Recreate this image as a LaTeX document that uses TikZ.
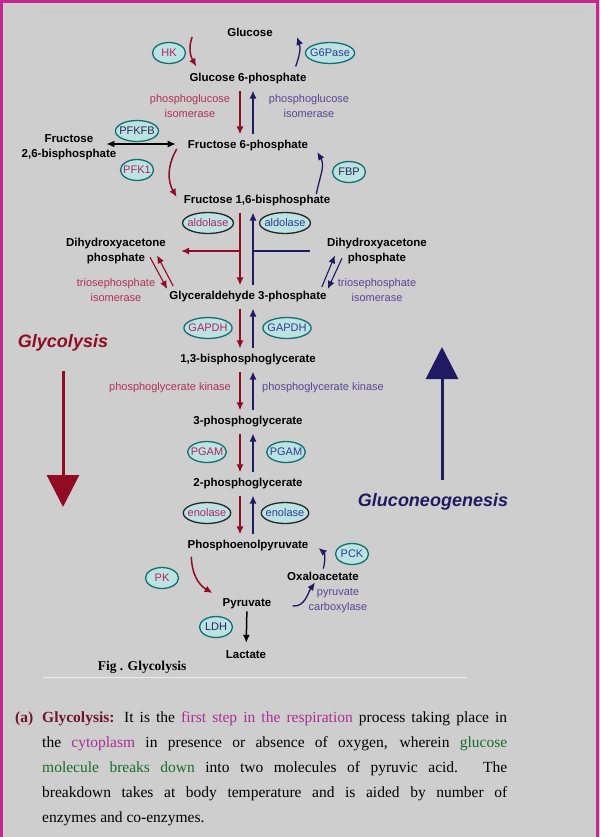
\documentclass[tikz,border=0pt]{standalone}
\usepackage{fontspec}
\setmainfont{Liberation Serif}
\setsansfont{Liberation Sans}
\usetikzlibrary{shapes.geometric, arrows.meta, positioning}
\definecolor{bgcol}{RGB}{206,206,206}
\definecolor{framecol}{RGB}{196,40,140}
\definecolor{glyred}{RGB}{145,12,35}
\definecolor{gngblue}{RGB}{32,26,98}
\definecolor{redtxt}{RGB}{178,48,88}
\definecolor{bluetxt}{RGB}{88,70,150}
\definecolor{redenz}{RGB}{185,35,95}
\definecolor{blueenz}{RGB}{45,62,150}
\definecolor{darkenz}{RGB}{40,40,90}
\definecolor{enzfill}{RGB}{188,226,226}
\definecolor{enzline}{RGB}{20,112,112}
\definecolor{maroontxt}{RGB}{110,20,45}
\definecolor{pinktxt}{RGB}{172,45,150}
\definecolor{greentxt}{RGB}{25,108,45}
\tikzset{
  metab/.style={
    font=\sffamily\bfseries\fontsize{11.5}{15.5}\selectfont,
    align=center,
    inner sep=2pt
    },
  enzname/.style={
    font=\sffamily\fontsize{11}{15}\selectfont,
    align=center,
    inner sep=1pt
    },
  enz/.style={
    ellipse,
    draw=enzline,
    line width=1.3pt,
    fill=enzfill,
    inner xsep=-2.5pt,
    inner ysep=0pt,
    minimum width=33pt,
    minimum height=21pt,
    font=\sffamily\fontsize{11}{12}\selectfont
    },
  enzr/.style={enz, text=redenz},
  enzb/.style={enz, text=blueenz},
  enzk/.style={enz, text=darkenz},
  fwd/.style={
    draw=glyred,
    line width=1.5pt,
    -{Latex[length=8pt,width=7pt]},
    shorten <=4pt,
    shorten >=4pt
    },
  rev/.style={
    draw=gngblue,
    line width=1.3pt,
    -{Latex[length=8pt,width=7pt]},
    shorten <=4pt,
    shorten >=4pt
    },
  bigarrow/.style={
    line width=3pt,
    -{Triangle[length=32pt,width=32pt]}
    },
  bodyline/.style={
    anchor=base west,
    inner sep=0pt,
    font=\fontsize{15.5}{25}\selectfont
    }
}

\begin{document}
\begin{tikzpicture}[x=1pt, y=-1pt]
\fill[bgcol] (0,0) rectangle (600,837);
\useasboundingbox (0,0) rectangle (600,837);
\draw[framecol, line width=3pt] (1.5,837) -- (1.5,1.5) -- (597,1.5) -- (597,837);
\draw[black!22, line width=0.8pt] (40,11) -- (588,11);
\draw[white!60!bgcol, line width=1pt] (43,677) -- (467,677);

% metabolites
\node (glc) [metab] at (250,32) {Glucose};
\node (g6p) [metab] at (248,79) {Glucose 6-phosphate};
\node (f6p) [metab] at (248,146) {Fructose 6-phosphate};
\node (f16bp) [metab] at (257,201) {Fructose 1,6-bisphosphate};
\node (gap) [metab] at (248,297) {Glyceraldehyde 3-phosphate};
\node (bpg) [metab] at (248,360) {1,3-bisphosphoglycerate};
\node (pg3) [metab] at (248,422) {3-phosphoglycerate};
\node (pg2) [metab] at (248,484) {2-phosphoglycerate};
\node (pep) [metab] at (248,546) {Phosphoenolpyruvate};
\node (oaa) [metab] at (323,576) {Oxaloacetate};
\node (pyr) [metab] at (247,604) {Pyruvate};
\node (lac) [metab] at (246,655) {Lactate};
\node (f26bp) [metab] at (69,147) {Fructose\\2,6-bisphosphate};
\node (dhapL) [metab] at (116,251) {Dihydroxyacetone\\phosphate};
\node (dhapR) [metab] at (377,251) {Dihydroxyacetone\\phosphate};

% enzyme names
\node (pgiL) [enzname, text=redtxt] at (190,106) {phosphoglucose\\isomerase};
\node (pgiR) [enzname, text=bluetxt] at (309,106) {phosphoglucose\\isomerase};
\node (tpiL) [enzname, text=redtxt] at (116,290) {triosephosphate\\isomerase};
\node (tpiR) [enzname, text=bluetxt] at (377,290) {triosephosphate\\isomerase};
\node (pgkL) [enzname, text=redtxt] at (170,388) {phosphoglycerate kinase};
\node (pgkR) [enzname, text=bluetxt] at (323,388) {phosphoglycerate kinase};
\node (pc) [enzname, text=bluetxt] at (338,601) {pyruvate\\carboxylase};

% enzyme ellipses
\node (hk) [enzr] at (169,53) {HK};
\node (g6pase) [enzb] at (330,53) {G6Pase};
\node (pfkfb) [enzk] at (137,131) {PFKFB};
\node (pfk1) [enzr] at (137,170) {PFK1};
\node (fbp) [enzk] at (349,172) {FBP};
\node (aldR) [enzr, draw=black!85] at (208,223) {aldolase};
\node (aldB) [enzb, draw=black!85] at (285,223) {aldolase};
\node (gapdhR) [enzr] at (208,328) {GAPDH};
\node (gapdhB) [enzb] at (287,328) {GAPDH};
\node (pgamR) [enzr] at (207,452) {PGAM};
\node (pgamB) [enzb] at (286,452) {PGAM};
\node (enoR) [enzr, draw=black!85] at (207,513) {enolase};
\node (enoB) [enzb, draw=black!85] at (285,513) {enolase};
\node (pck) [enzb] at (352,554) {PCK};
\node (pk) [enzr] at (162,578) {PK};
\node (ldh) [enzk] at (216,627) {LDH};

% big labels
\node (glylab) [font=\sffamily\bfseries\itshape\fontsize{18}{20}\selectfont, text=glyred] at (63,343) {Glycolysis};
\node (gnglab) [font=\sffamily\bfseries\itshape\fontsize{18}{20}\selectfont, text=gngblue] at (433,502) {Gluconeogenesis};
\coordinate (glyTip) at (63,507);
\coordinate (gngTip) at (442,347);
\draw[bigarrow, glyred, shorten <=16pt] (glylab.south) -- (glyTip);
\draw[bigarrow, gngblue, shorten <=10pt] (gnglab.north -| gngTip) -- (gngTip);

% main column arrows
\coordinate (rcol) at (240,0);
\coordinate (ncol) at (253,0);
\foreach \a/\b in {g6p/f6p, f16bp/gap, gap/bpg, bpg/pg3, pg3/pg2, pg2/pep} {
  \draw[fwd] (\a.south -| rcol) -- (\b.north -| rcol);
  \draw[rev] (\b.north -| ncol) -- (\a.south -| ncol);
}
\draw[glyred, line width=1.5pt, -{Latex[length=8pt,width=7pt]}, shorten >=13pt] (dhapL.east -| rcol) -- (dhapL.east);
\draw[gngblue, line width=1.3pt, shorten >=15pt] (dhapR.west -| ncol) -- (dhapR.west);

% triose phosphate isomerase
\draw[fwd, line width=1.1pt, shorten <=0pt, shorten >=0pt] ([xshift=-18pt,yshift=9pt]dhapL.south east) -- ([yshift=8pt]gap.west);
\draw[fwd, line width=1.1pt, shorten <=0pt, shorten >=0pt] ([xshift=6pt,yshift=11pt]gap.west) -- ([xshift=-11pt,yshift=11pt]dhapL.south east);
\draw[rev, line width=1.1pt, shorten <=0pt, shorten >=0pt] ([xshift=-7pt,yshift=10pt]gap.east) -- ([xshift=10pt,yshift=11pt]dhapR.south west);
\draw[rev, line width=1.1pt, shorten <=0pt, shorten >=0pt] ([xshift=17pt,yshift=8pt]dhapR.south west) -- ([xshift=-1pt,yshift=8pt]gap.east);

% curved steps
\draw[fwd, shorten <=0pt, shorten >=0pt] ([xshift=-33pt,yshift=-5pt]glc.west) to[out=250,in=120] ([xshift=9pt,yshift=5pt]g6p.north west);
\draw[rev, shorten <=0pt, shorten >=0pt] ([xshift=-13pt,yshift=5pt]g6p.north east) to[out=70,in=-70] ([xshift=22pt,yshift=-5pt]glc.east);
\draw[fwd, shorten <=0pt, shorten >=0pt] ([xshift=-9pt,yshift=-3pt]f6p.west) to[out=240,in=120] ([xshift=-5pt,yshift=4pt]f16bp.west);
\draw[rev, shorten <=0pt, shorten >=0pt] ([xshift=-16pt,yshift=7pt]f16bp.east) to[out=80,in=-60] ([xshift=7pt,yshift=-6pt]f6p.east);
\draw[black, line width=1.3pt, {Latex[length=8pt,width=7pt]}-{Latex[length=8pt,width=7pt]}] ([xshift=-12pt,yshift=3pt]f26bp.east) -- ([xshift=-10pt,yshift=2pt]f6p.west);
\draw[fwd, shorten <=0pt, shorten >=0pt] ([xshift=6pt,yshift=-3pt]pep.south west) to[out=270,in=150] ([xshift=-8pt,yshift=11pt]pyr.west);
\draw[rev, shorten <=1pt, shorten >=0pt] (oaa.north) to[out=75,in=-40] ([xshift=8pt,yshift=-2pt]pep.east);
\draw[rev, shorten <=0pt, shorten >=0pt] ([xshift=19pt,yshift=-2pt]pyr.east) to[out=-5,in=235] ([xshift=-8pt]oaa.south);
\draw[black, line width=1.5pt, -{Latex[length=8pt,width=7pt]}, shorten <=0pt, shorten >=6pt] (pyr) -- (lac);

% caption and text
\node (figlab) [font=\bfseries\fontsize{13.5}{15}\selectfont] at (142,667) {Fig . Glycolysis};
\node (alab) [bodyline, text=maroontxt, font=\bfseries\fontsize{15.5}{25}\selectfont] at (15,722) {(a)};
\node (par1) [bodyline] at (42,722) {\makebox[465pt][s]{\textcolor{maroontxt}{\bfseries Glycolysis:} It is the \textcolor{pinktxt}{first step in the respiration} process taking place in}};
\node (par2) [bodyline] at (42,747) {\makebox[465pt][s]{the \textcolor{pinktxt}{cytoplasm} in presence or absence of oxygen, wherein \textcolor{greentxt}{glucose}}};
\node (par3) [bodyline] at (42,772) {\makebox[465pt][s]{\textcolor{greentxt}{molecule breaks down} into two molecules of pyruvic acid. The}};
\node (par4) [bodyline] at (42,797) {\makebox[465pt][s]{breakdown takes at body temperature and is aided by number of}};
\node (par5) [bodyline] at (42,822) {enzymes and co-enzymes.};
\end{tikzpicture}
\end{document}
